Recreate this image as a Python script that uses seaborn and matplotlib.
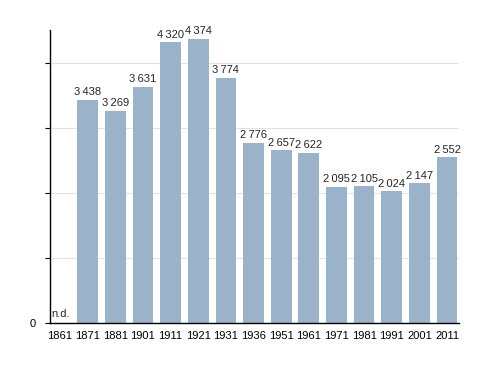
import matplotlib
matplotlib.use("Agg")
import matplotlib.pyplot as plt
import seaborn as sns
import pandas as pd

years = ["1861", "1871", "1881", "1901", "1911", "1921", "1931", "1936",
         "1951", "1961", "1971", "1981", "1991", "2001", "2011"]
population = [None, 3438, 3269, 3631, 4320, 4374, 3774, 2776,
              2657, 2622, 2095, 2105, 2024, 2147, 2552]
ytick_values = [0, 1000, 2000, 3000, 4000]
ytick_labels = ["0", "", "", "", ""]

df = pd.DataFrame({"anno": years, "abitanti": population})

sns.set_style("white")
plt.rcParams["font.family"] = ["Liberation Sans", "DejaVu Sans"]

fig = plt.figure(figsize=(4.88, 3.73), dpi=100)
ax = fig.add_axes([0.1025, 0.134, 0.838, 0.786])

sns.barplot(data=df, x="anno", y="abitanti", color="#9ab3cb", saturation=1,
            width=0.75, linewidth=0, ax=ax, zorder=2)

for i, v in enumerate(population):
    if v is None:
        ax.text(i - 0.31, 55, "n.d.", fontsize=8, ha="left", va="bottom")
    else:
        label = f"{v:,}".replace(",", "\u2009")
        ax.text(i, v + 40, label, fontsize=8, ha="center", va="bottom")

ax.set_ylim(0, 4510)
ax.set_xlim(-0.36, len(years) - 1 + 0.43)
ax.set_yticks(ytick_values)
ax.set_yticklabels(ytick_labels)
ax.yaxis.grid(True, color="#e2e2e2", linewidth=0.8, zorder=0)
ax.set_axisbelow(True)
ax.set_xlabel("")
ax.set_ylabel("")

for side in ["top", "right"]:
    ax.spines[side].set_visible(False)
for side in ["left", "bottom"]:
    ax.spines[side].set_color("black")
    ax.spines[side].set_linewidth(1)

ax.tick_params(axis="y", left=True, length=3.6, width=0.8, color="black",
               labelsize=8, pad=6.5, labelcolor="black")
ax.tick_params(axis="x", bottom=False, labelsize=8, pad=2, labelcolor="black")

fig.savefig("out.png", dpi=100)
